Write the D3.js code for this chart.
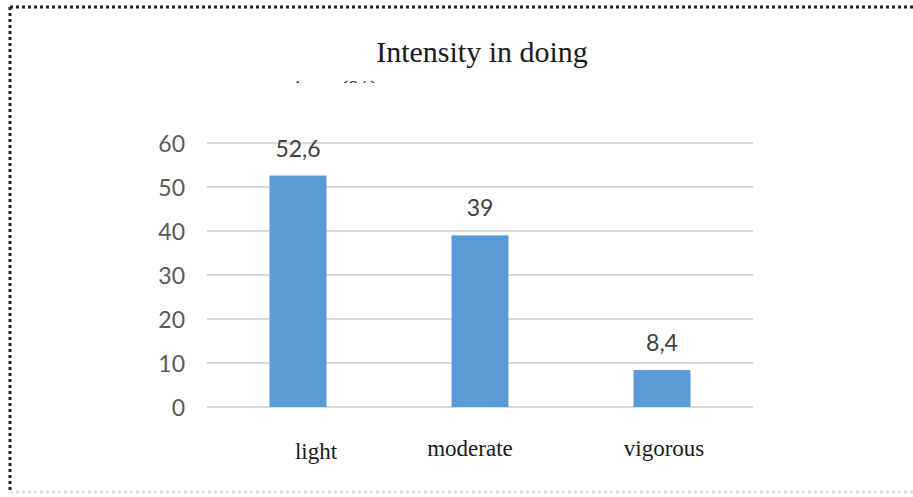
<!DOCTYPE html>
<html>
<head>
<meta charset="utf-8">
<script src="https://cdn.jsdelivr.net/npm/d3@7"></script>
<style>
  html, body { margin: 0; padding: 0; background: #fff; }
  svg { display: block; }
</style>
</head>
<body>
<svg id="chart" width="913" height="497"></svg>
<script>
// Share of respondents by activity intensity (%)
const categories = ["light", "moderate", "vigorous"];
const values = [52.6, 39, 8.4];
const valueLabels = ["52,6", "39", "8,4"];
const yTicks = [0, 10, 20, 30, 40, 50, 60];
const titleText = "Intensity in doing";
const subtitleText = "time (%)";

const svg = d3.select("#chart");
const W = 913, H = 497;

// Dotted frame around the figure
const frame = svg.append("g");
frame.append("line").attr("x1", 10).attr("x2", W + 5).attr("y1", 7).attr("y2", 7)
  .attr("stroke", "#222").attr("stroke-width", 3).attr("stroke-dasharray", "3,3");
frame.append("line").attr("x1", 10).attr("x2", 10).attr("y1", 7).attr("y2", 492)
  .attr("stroke", "#222").attr("stroke-width", 3).attr("stroke-dasharray", "3,3");
frame.append("line").attr("x1", 10).attr("x2", W + 5).attr("y1", 492).attr("y2", 492)
  .attr("stroke", "#ddd").attr("stroke-width", 3).attr("stroke-dasharray", "3,3");

const plot = { left: 207, right: 753, top: 143, bottom: 407 };

const x = d3.scaleBand()
  .domain(categories)
  .range([plot.left, plot.right])
  .paddingInner(0.687)
  .paddingOuter(0.3435);

const y = d3.scaleLinear().domain([0, 60]).range([plot.bottom, plot.top]);

// Gridlines
svg.append("g")
  .selectAll("line")
  .data(yTicks)
  .join("line")
  .attr("x1", plot.left).attr("x2", plot.right)
  .attr("y1", d => y(d)).attr("y2", d => y(d))
  .attr("stroke", "#d9d9d9").attr("stroke-width", 2);

// Y axis labels
const yAxis = d3.axisLeft(y).tickValues(yTicks).tickSize(0).tickPadding(0);
const yg = svg.append("g")
  .attr("transform", `translate(${plot.left - 22},0)`)
  .call(yAxis);
yg.select(".domain").remove();
yg.selectAll("text")
  .attr("font-family", "Lato, 'Open Sans', sans-serif")
  .attr("font-size", 23)
  .attr("fill", "#595959")
  .attr("dy", "0.36em");

// Bars
svg.append("g")
  .selectAll("rect")
  .data(values)
  .join("rect")
  .attr("x", (d, i) => x(categories[i]))
  .attr("y", d => y(d))
  .attr("width", x.bandwidth())
  .attr("height", d => y(0) - y(d))
  .attr("fill", "#5B9BD5");

// Value labels above bars
svg.append("g")
  .selectAll("text")
  .data(values)
  .join("text")
  .attr("x", (d, i) => x(categories[i]) + x.bandwidth() / 2)
  .attr("y", d => y(d) - 19)
  .attr("text-anchor", "middle")
  .attr("font-family", "Lato, 'Open Sans', sans-serif")
  .attr("font-size", 23)
  .attr("fill", "#404040")
  .text((d, i) => valueLabels[i]);

// Category labels (set in a serif face, slightly nudged under each bar)
const labelNudge = [18, -10, 2];
const labelBase = [459, 456, 456];
svg.append("g")
  .selectAll("text")
  .data(categories)
  .join("text")
  .attr("x", (d, i) => x(d) + x.bandwidth() / 2 + labelNudge[i])
  .attr("y", (d, i) => labelBase[i])
  .attr("text-anchor", "middle")
  .attr("font-family", "'Liberation Serif', 'Times New Roman', serif")
  .attr("font-size", 23)
  .attr("fill", "#1a1a1a")
  .text(d => d);

// Title
svg.append("text")
  .attr("x", 482)
  .attr("y", 62)
  .attr("text-anchor", "middle")
  .attr("font-family", "'Liberation Serif', 'Times New Roman', serif")
  .attr("font-size", 30)
  .attr("fill", "#1a1a1a")
  .text(titleText);

// Second title line, cut off by the chart area
svg.append("clipPath").attr("id", "subclip")
  .append("rect").attr("x", 0).attr("y", 70).attr("width", W).attr("height", 13);
svg.append("text")
  .attr("clip-path", "url(#subclip)")
  .attr("x", 287)
  .attr("y", 97.5)
  .attr("font-family", "'Liberation Serif', 'Times New Roman', serif")
  .attr("font-size", 26)
  .attr("fill", "#444")
  .text(subtitleText);
</script>
</body>
</html>
